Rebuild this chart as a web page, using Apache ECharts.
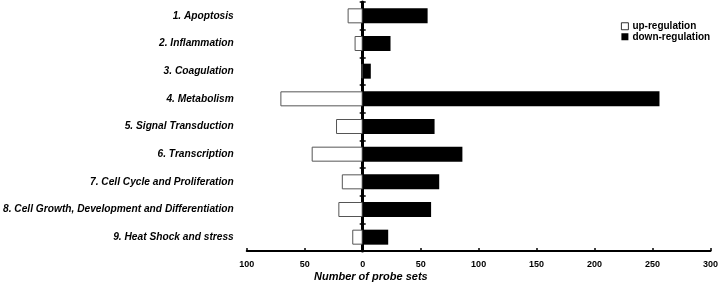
<!DOCTYPE html>
<html>
<head>
<meta charset="utf-8">
<script src="https://cdn.jsdelivr.net/npm/echarts@6/dist/echarts.min.js"></script>
<style>
  html, body { margin: 0; padding: 0; background: #fff; }
  #chart { width: 721px; height: 284px; }
</style>
</head>
<body>
<div id="chart"></div>
<script>
var categories = ['1. Apoptosis', '2. Inflammation', '3. Coagulation', '4. Metabolism',
  '5. Signal Transduction', '6. Transcription', '7. Cell Cycle and Proliferation',
  '8. Cell Growth, Development and Differentiation', '9. Heat Shock and stress'];
// up-regulation drawn to the left (negative)
var upValues = [-13, -7, -1, -71, -23, -44, -18, -21, -9];
var downValues = [56, 24, 7, 256, 62, 86, 66, 59, 22];
var xTicks = { min: -100, max: 300, step: 50 };

var font = 'Liberation Sans, Arial, sans-serif';
var chart = echarts.init(document.getElementById('chart'));

chart.setOption({
  backgroundColor: '#ffffff',
  animation: false,
  grid: { left: 246, right: 9, top: 2, bottom: 33 },
  legend: {
    orient: 'vertical',
    left: 616,
    top: 16,
    itemWidth: 7,
    itemHeight: 7,
    itemGap: 0,
    textStyle: { fontFamily: font, fontWeight: 'bold', fontSize: 10, color: '#000', lineHeight: 10.5, padding: [0, 0, 0, -1] },
    data: [
      { name: 'up-regulation', icon: 'rect', itemStyle: { color: '#fff', borderColor: '#000', borderWidth: 0.8 } },
      { name: 'down-regulation', icon: 'rect', itemStyle: { color: '#000', borderWidth: 0 } }
    ]
  },
  graphic: [{
    type: 'text',
    left: 314,
    top: 271,
    style: { text: 'Number of probe sets', font: 'italic bold 11px ' + font, fill: '#000' }
  }],
  xAxis: {
    type: 'value',
    min: xTicks.min,
    max: xTicks.max,
    interval: xTicks.step,
    axisLine: { show: true, onZero: false, lineStyle: { color: '#000', width: 2 } },
    axisTick: { show: true, inside: true, length: 3, lineStyle: { color: '#000', width: 1.5 } },
    splitLine: { show: false },
    axisLabel: {
      margin: 9,
      fontFamily: font, fontWeight: 'bold', fontSize: 9, color: '#000',
      formatter: function (v) { return Math.abs(v); }
    }
  },
  yAxis: [{
    type: 'category',
    data: categories,
    inverse: true,
    position: 'left',
    axisLine: { show: false, onZero: false },
    axisTick: { show: false },
    axisLabel: { margin: 13, fontFamily: font, fontWeight: 'bold', fontStyle: 'italic', fontSize: 10.2, color: '#000' }
  }, {
    type: 'category',
    data: categories,
    inverse: true,
    axisLine: { show: true, onZero: true, onZeroAxisIndex: 0, lineStyle: { color: '#000', width: 3 } },
    axisTick: { show: true, length: 3, lineStyle: { color: '#000', width: 1.5 } },
    axisLabel: { show: false }
  }, {
    type: 'category',
    data: categories,
    inverse: true,
    axisLine: { show: false, onZero: true, onZeroAxisIndex: 0 },
    axisTick: { show: true, inside: true, length: 3, lineStyle: { color: '#000', width: 1.5 } },
    axisLabel: { show: false }
  }],
  series: [{
    name: 'up-regulation',
    type: 'bar',
    data: upValues,
    barWidth: 15,
    barGap: '-100%',
    itemStyle: { color: '#fff', borderColor: '#555', borderWidth: 1 }
  }, {
    name: 'down-regulation',
    type: 'bar',
    data: downValues,
    barWidth: 15,
    barGap: '-100%',
    z: 3,
    itemStyle: { color: '#000' }
  }]
});
</script>
</body>
</html>
